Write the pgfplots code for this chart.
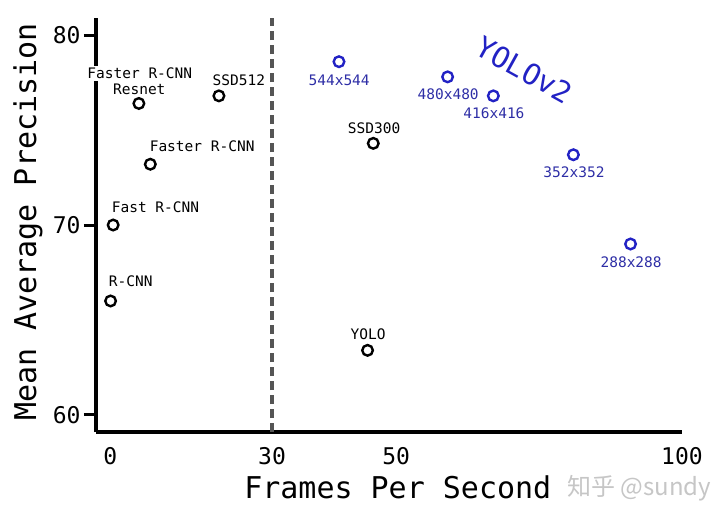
\documentclass[border=0pt]{standalone}
\usepackage{pgfplots}
\pgfplotsset{compat=1.18}
\usepackage{fontspec}
\setmainfont{DejaVu Sans Mono}
\newfontfamily\cjk{Noto Sans CJK SC}
\definecolor{yoloblue}{HTML}{2222C4}
\definecolor{lblblue}{HTML}{2E2EA6}
\definecolor{dashgray}{HTML}{555555}

% older detectors: fps, mAP
\pgfplotstableread{
x y
0.05 66.0
0.5 70.0
7 73.2
5 76.4
19 76.8
46 74.3
45 63.4
}\olddet
% YOLOv2 at several input sizes
\pgfplotstableread{
x y
40 78.6
59 77.8
67 76.8
81 73.7
91 69.0
}\yolotwo

\begin{document}
\begin{tikzpicture}
\begin{axis}[
    name=ax,
    scale only axis,
    width=586pt, height=414pt,
    xmin=-2.5, xmax=100,
    ymin=59.1, ymax=80.9,
    axis x line=bottom, axis y line=left,
    axis line style={line width=3.5pt, -},
    xtick={0,28.3,50,100},
    xticklabels={0,30,50,100},
    ytick={60,70,80},
    xtick style={draw=none},
    ytick style={line width=3pt, black},
    tick align=outside,
    major tick length=12pt,
    ticklabel style={font=\fontsize{23}{23}\selectfont},
    /pgf/number format/assume math mode=true,
    xlabel={Frames Per Second},
    ylabel={Mean Average Precision},
    label style={font=\fontsize{30}{30}\selectfont},
    xlabel style={at={(axis description cs:0.515,0)}, anchor=center, yshift=-55pt},
    ylabel style={at={(axis description cs:0,0.507)}, anchor=center, yshift=68pt},
    clip=false,
]
\addplot[dashgray, line width=3.5pt, dash pattern=on 9pt off 5pt]
  coordinates {(28.3,59.1) (28.3,80.9)};
\addplot[only marks, mark=o, mark size=5.3pt, line width=2.4pt, black] table {\olddet};
\addplot[only marks, mark=o, mark size=5.3pt, line width=2.4pt, yoloblue] table {\yolotwo};

\begin{scope}[font=\fontsize{14.5}{15}\selectfont]
\node[anchor=west] at (axis cs:-0.87,67.05) {R-CNN};
\node[anchor=west] at (axis cs:-0.35,70.95) {Fast R-CNN};
\node[anchor=west] at (axis cs:6.29,74.16) {Faster R-CNN};
\node[fill=white, inner sep=2pt] at (axis cs:5.16,78.0) {Faster R-CNN};
\node at (axis cs:5.07,77.16) {Resnet};
\node[anchor=west] at (axis cs:17.3,77.63) {SSD512};
\node at (axis cs:46.15,75.1) {SSD300};
\node at (axis cs:45.1,64.26) {YOLO};
\node[lblblue] at (axis cs:40.03,77.63) {544x544};
\node[lblblue] at (axis cs:59.1,76.9) {480x480};
\node[lblblue] at (axis cs:67.1,75.9) {416x416};
\node[lblblue] at (axis cs:81.1,72.8) {352x352};
\node[lblblue] at (axis cs:91.1,68.05) {288x288};
\end{scope}
\node[yoloblue, rotate=-29, font=\fontsize{29}{29}\selectfont] at (axis cs:72.4,78.16) {YOLOv2};
\node[gray!45, font=\cjk\fontsize{24}{24}\selectfont] at (axis cs:92.5,56.16) {知乎 @sundy};
\end{axis}
\pgfresetboundingbox
\path (ax.south west) ++(-96pt,-91pt) rectangle ++(720pt,523pt);
\end{tikzpicture}
\end{document}
